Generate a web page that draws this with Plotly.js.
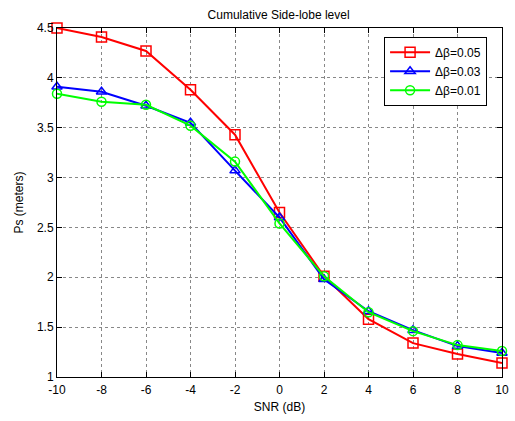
<!DOCTYPE html>
<html>
<head>
<meta charset="utf-8">
<script src="https://cdn.plot.ly/plotly-3.0.1.min.js"></script>
<style>html,body{margin:0;padding:0;background:#fff;}#chart{width:515px;height:421px;}</style>
</head>
<body>
<div id="chart"></div>
<script>
const snr = [-10, -8, -6, -4, -2, 0, 2, 4, 6, 8, 10];
const ps005 = [4.50, 4.41, 4.27, 3.88, 3.43, 2.65, 2.01, 1.58, 1.34, 1.23, 1.14];
const ps003 = [3.91, 3.86, 3.72, 3.55, 3.07, 2.60, 1.98, 1.66, 1.47, 1.31, 1.24];
const ps001 = [3.84, 3.76, 3.73, 3.52, 3.16, 2.54, 2.01, 1.65, 1.46, 1.32, 1.26];
const names = ['Δβ=0.05', 'Δβ=0.03', 'Δβ=0.01'];
const xTicks = [-10, -8, -6, -4, -2, 0, 2, 4, 6, 8, 10];
const yTicks = [1, 1.5, 2, 2.5, 3, 3.5, 4, 4.5];

const font = {family: 'Liberation Sans, Arial, sans-serif', size: 12, color: '#000'};
function tr(y, name, color, symbol) {
  return {x: snr, y: y, name: name, type: 'scatter', mode: 'lines+markers',
    line: {color: color, width: 2},
    marker: {symbol: symbol, size: symbol === 'square-open' ? 10 : 9, color: color, line: {color: color, width: 1.5}},
    cliponaxis: false};
}
const data = [
  tr(ps005, names[0], '#ff0000', 'square-open'),
  tr(ps003, names[1], '#0000ff', 'triangle-up-open'),
  tr(ps001, names[2], '#00ff00', 'circle-open')
];
const axisCommon = {
  showline: true, linecolor: '#000', linewidth: 1, mirror: 'ticks',
  ticks: 'inside', ticklen: 5, tickcolor: '#000', tickwidth: 1,
  showgrid: true, gridcolor: '#888', griddash: 'dot', gridwidth: 1,
  zeroline: false, tickfont: font
};
const layout = {
  width: 515, height: 421,
  margin: {l: 57, r: 13, t: 28, b: 44},
  paper_bgcolor: '#fff', plot_bgcolor: '#fff',
  font: font,
  title: {text: 'Cumulative Side-lobe level', font: {family: font.family, size: 12, color: '#000'}, x: 0.541, xanchor: 'center', y: 0.966, yanchor: 'middle'},
  xaxis: Object.assign({}, axisCommon, {range: [-10, 10], tickvals: xTicks, ticktext: xTicks.map(String),
    ticklabelstandoff: 2,
    title: {text: 'SNR (dB)', font: font, standoff: 6}}),
  yaxis: Object.assign({}, axisCommon, {range: [1, 4.5], tickvals: yTicks, ticktext: yTicks.map(String),
    title: {text: 'Ps (meters)', font: font, standoff: 10}}),
  legend: {x: 0.735, xanchor: 'left', y: 0.975, yanchor: 'top', bgcolor: '#fff', bordercolor: '#000', borderwidth: 1,
    font: {family: font.family, size: 12, color: '#000'}, itemwidth: 40, tracegroupgap: 0},
  showlegend: true
};
Plotly.newPlot('chart', data, layout, {displayModeBar: false, staticPlot: true});
</script>
</body>
</html>
